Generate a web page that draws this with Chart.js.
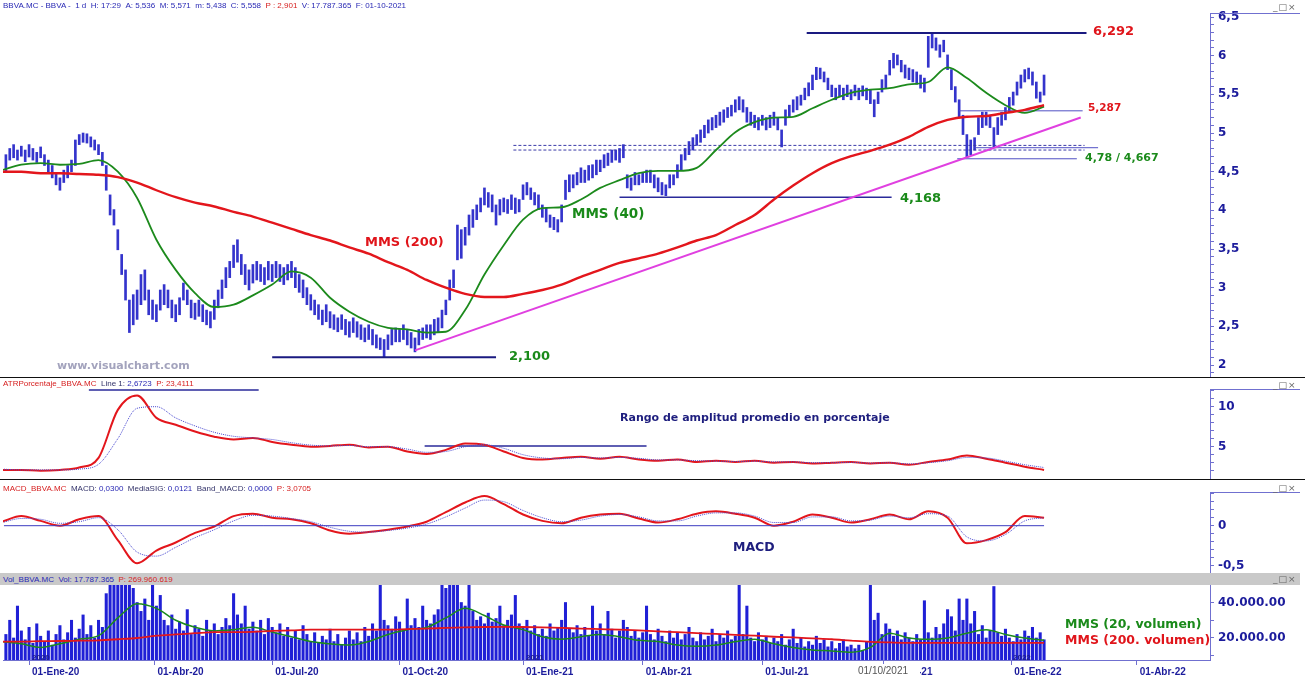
<!DOCTYPE html>
<html lang="es">
<head>
<meta charset="utf-8">
<title>BBVA.MC</title>
<script src="https://cdn.jsdelivr.net/npm/chart.js@4.4.1/dist/chart.umd.min.js"></script>
<style>
  html, body { margin: 0; padding: 0; background: #fff; }
  body { position: relative; width: 1305px; height: 681px; overflow: hidden; font-family: "DejaVu Sans", sans-serif; }
  canvas { position: absolute; left: 0; }
  .hdr { position: absolute; left: 3px; font: 8px "Liberation Sans", sans-serif; white-space: nowrap; color: #2828b4; }
  .hdr .r { color: #d61e1e; }
  .hdr .d { color: #33336a; }
  .note { position: absolute; white-space: nowrap; font-weight: bold; line-height: 1; }
  .sep { position: absolute; left: 0; width: 1305px; height: 1px; background: #111; }
  .boxtop { position: absolute; left: 1210px; width: 90px; height: 1px; background: #7070d0; }
  .icons { position: absolute; left: 1273px; font: 9px "DejaVu Sans", sans-serif; color: #666; letter-spacing: 1px; }
  #volbar { position: absolute; left: 0; top: 573px; width: 1300px; height: 12px; background: #c9c9c9; }
  .yr { position: absolute; font: bold 8px "Liberation Sans", sans-serif; color: #1e1e8a; }
</style>
</head>
<body>
<canvas id="price" width="1305" height="377" style="top:0"></canvas>
<canvas id="atr" width="1305" height="101" style="top:378px"></canvas>
<canvas id="macd" width="1305" height="93" style="top:480px"></canvas>
<div id="volbar"></div>
<canvas id="vol" width="1305" height="96" style="top:585px"></canvas>

<div class="sep" style="top:377px"></div>
<div class="sep" style="top:479px"></div>
<div class="boxtop" style="top:13px"></div>
<div class="boxtop" style="top:389px"></div>
<div class="boxtop" style="top:492px"></div>
<div class="icons" style="top:2px">_□×</div>
<div class="icons" style="top:380px">_□×</div>
<div class="icons" style="top:483px">_□×</div>
<div class="icons" style="top:574px">_□×</div>

<div class="hdr" style="top:1px">BBVA.MC - BBVA - &nbsp;1 d &nbsp;H: 17:29 &nbsp;A: 5,536 &nbsp;M: 5,571 &nbsp;m: 5,438 &nbsp;C: 5,558 &nbsp;<span class="r">P : 2,901</span> &nbsp;V: 17.787.365 &nbsp;F: 01-10-2021</div>
<div class="hdr" style="top:379px"><span class="r">ATRPorcentaje_BBVA.MC</span> &nbsp;<span class="d">Line 1:</span> 2,6723 &nbsp;<span class="r">P: 23,4111</span></div>
<div class="hdr" style="top:484px"><span class="r">MACD_BBVA.MC</span> &nbsp;<span class="d">MACD:</span> 0,0300 &nbsp;<span class="d">MediaSIG:</span> 0,0121 &nbsp;<span class="d">Band_MACD:</span> 0,0000 &nbsp;<span class="r">P: 3,0705</span></div>
<div class="hdr" style="top:575px">Vol_BBVA.MC &nbsp;Vol: 17.787.365 &nbsp;<span class="r">P: 269.960.619</span></div>

<div class="note" style="left:1093px;top:24px;font-size:13px;color:#e0151b">6,292</div>
<div class="note" style="left:1088px;top:102px;font-size:10.5px;color:#e0151b">5,287</div>
<div class="note" style="left:1085px;top:152px;font-size:11px;color:#1a8a1a">4,78 / 4,667</div>
<div class="note" style="left:900px;top:191px;font-size:13px;color:#1a8a1a">4,168</div>
<div class="note" style="left:572px;top:207px;font-size:13.5px;color:#1a8a1a">MMS (40)</div>
<div class="note" style="left:365px;top:235px;font-size:13px;color:#e0151b">MMS (200)</div>
<div class="note" style="left:509px;top:349px;font-size:13px;color:#1a8a1a">2,100</div>
<div class="note" style="left:57px;top:360px;font-size:11px;color:#a3a3bd">www.visualchart.com</div>
<div class="note" style="left:620px;top:412px;font-size:11px;color:#1e1e7e">Rango de amplitud promedio en porcentaje</div>
<div class="note" style="left:733px;top:541px;font-size:12.5px;color:#1e1e7e">MACD</div>
<div class="note" style="left:1065px;top:618px;font-size:12.5px;color:#1a8a1a">MMS (20, volumen)</div>
<div class="note" style="left:1065px;top:634px;font-size:12.5px;color:#e0151b">MMS (200. volumen)</div>
<div class="yr" style="left:32px;top:653px">2020</div>
<div class="yr" style="left:526px;top:653px">2021</div>
<div class="yr" style="left:1013px;top:653px">2022</div>
<div class="note" style="left:855px;top:664px;height:13px;width:62px;font:10px 'Liberation Sans',sans-serif;color:#555;background:#fff;padding:1px 0 0 3px">01/10/2021</div>

<script>
// x positions are trading-day indexes, 0 = 01-Ene-20
const barStart = -12, barStep = 2;      // price and volume bars
const lineStart = -14, lineStep = 10;   // moving averages and oscillators

const priceLow = [
  4.50, 4.65, 4.68, 4.65, 4.70, 4.63, 4.69, 4.65, 4.62, 4.68,
  4.58, 4.50, 4.42, 4.33, 4.26, 4.36, 4.42, 4.50, 4.58, 4.85,
  4.88, 4.87, 4.82, 4.78, 4.72, 4.58, 4.26, 3.94, 3.81, 3.49,
  3.17, 2.84, 2.42, 2.52, 2.59, 2.78, 2.84, 2.65, 2.59, 2.56,
  2.71, 2.78, 2.74, 2.61, 2.56, 2.65, 2.84, 2.78, 2.61, 2.59,
  2.63, 2.56, 2.52, 2.48, 2.59, 2.74, 2.86, 3.00, 3.13, 3.26,
  3.33, 3.17, 3.04, 2.97, 3.06, 3.10, 3.08, 3.04, 3.10, 3.08,
  3.13, 3.08, 3.04, 3.10, 3.13, 3.00, 2.94, 2.87, 2.78, 2.71,
  2.65, 2.59, 2.52, 2.56, 2.48, 2.46, 2.43, 2.46, 2.39, 2.36,
  2.42, 2.36, 2.33, 2.30, 2.33, 2.26, 2.22, 2.20, 2.10, 2.20,
  2.26, 2.30, 2.30, 2.33, 2.26, 2.22, 2.17, 2.26, 2.33, 2.35,
  2.33, 2.39, 2.43, 2.48, 2.65, 2.84, 3.00, 3.36, 3.38, 3.55,
  3.68, 3.78, 3.88, 3.98, 4.07, 4.04, 3.98, 3.81, 3.94, 3.98,
  3.96, 4.01, 3.96, 3.98, 4.14, 4.20, 4.14, 4.07, 4.01, 3.91,
  3.85, 3.78, 3.75, 3.72, 3.85, 4.14, 4.24, 4.29, 4.33, 4.36,
  4.36, 4.39, 4.42, 4.46, 4.50, 4.55, 4.58, 4.62, 4.65, 4.62,
  4.68, 4.29, 4.26, 4.33, 4.33, 4.36, 4.36, 4.36, 4.29, 4.24,
  4.20, 4.19, 4.29, 4.33, 4.42, 4.52, 4.65, 4.72, 4.78, 4.84,
  4.88, 4.94, 5.00, 5.04, 5.07, 5.10, 5.14, 5.20, 5.22, 5.27,
  5.30, 5.27, 5.14, 5.10, 5.07, 5.04, 5.10, 5.04, 5.07, 5.10,
  5.04, 4.82, 5.10, 5.20, 5.27, 5.30, 5.36, 5.43, 5.48, 5.56,
  5.69, 5.70, 5.66, 5.56, 5.47, 5.43, 5.47, 5.43, 5.47, 5.43,
  5.48, 5.43, 5.48, 5.43, 5.38, 5.21, 5.38, 5.53, 5.58, 5.75,
  5.84, 5.88, 5.79, 5.71, 5.69, 5.66, 5.63, 5.58, 5.53, 5.85,
  6.10, 6.07, 5.98, 6.05, 5.82, 5.56, 5.40, 5.21, 4.98, 4.69,
  4.72, 4.78, 4.98, 5.07, 5.10, 5.07, 4.82, 4.98, 5.10, 5.17,
  5.27, 5.36, 5.49, 5.58, 5.66, 5.70, 5.62, 5.45, 5.40, 5.49
];
const priceHigh = [
  4.72, 4.80, 4.85, 4.78, 4.83, 4.78, 4.85, 4.80, 4.75, 4.82,
  4.72, 4.65, 4.58, 4.48, 4.42, 4.52, 4.58, 4.65, 4.91, 4.98,
  5.00, 4.99, 4.95, 4.91, 4.85, 4.75, 4.58, 4.20, 4.01, 3.75,
  3.43, 3.23, 2.84, 2.91, 2.97, 3.17, 3.23, 2.97, 2.84, 2.78,
  2.97, 3.04, 2.97, 2.84, 2.78, 2.87, 3.06, 2.97, 2.84, 2.80,
  2.84, 2.78, 2.71, 2.69, 2.84, 2.97, 3.10, 3.26, 3.34, 3.55,
  3.62, 3.43, 3.30, 3.23, 3.30, 3.34, 3.30, 3.26, 3.34, 3.30,
  3.34, 3.30, 3.26, 3.30, 3.34, 3.26, 3.17, 3.10, 3.00, 2.91,
  2.84, 2.78, 2.71, 2.78, 2.69, 2.65, 2.61, 2.65, 2.59, 2.56,
  2.61, 2.56, 2.52, 2.48, 2.52, 2.46, 2.39, 2.35, 2.33, 2.39,
  2.46, 2.48, 2.46, 2.52, 2.46, 2.42, 2.35, 2.46, 2.48, 2.52,
  2.52, 2.59, 2.61, 2.71, 2.84, 3.10, 3.23, 3.81, 3.75, 3.78,
  3.94, 4.01, 4.07, 4.16, 4.29, 4.23, 4.20, 4.07, 4.14, 4.16,
  4.14, 4.20, 4.16, 4.14, 4.33, 4.36, 4.29, 4.23, 4.20, 4.07,
  4.03, 3.94, 3.91, 3.88, 4.07, 4.39, 4.46, 4.46, 4.49, 4.55,
  4.52, 4.58, 4.59, 4.65, 4.65, 4.72, 4.74, 4.78, 4.78, 4.80,
  4.85, 4.46, 4.42, 4.49, 4.46, 4.49, 4.52, 4.52, 4.46, 4.42,
  4.36, 4.33, 4.46, 4.46, 4.59, 4.72, 4.80, 4.89, 4.94, 4.98,
  5.04, 5.10, 5.17, 5.20, 5.23, 5.27, 5.30, 5.33, 5.36, 5.43,
  5.47, 5.43, 5.33, 5.27, 5.23, 5.20, 5.23, 5.20, 5.23, 5.27,
  5.20, 5.04, 5.30, 5.36, 5.43, 5.47, 5.49, 5.58, 5.65, 5.75,
  5.85, 5.84, 5.79, 5.71, 5.62, 5.58, 5.62, 5.58, 5.62, 5.56,
  5.62, 5.58, 5.61, 5.58, 5.56, 5.43, 5.53, 5.69, 5.75, 5.94,
  6.03, 6.01, 5.94, 5.88, 5.84, 5.82, 5.79, 5.75, 5.71, 6.25,
  6.29, 6.23, 6.14, 6.20, 6.01, 5.82, 5.60, 5.43, 5.23, 4.98,
  4.91, 4.94, 5.20, 5.27, 5.27, 5.23, 5.07, 5.20, 5.27, 5.33,
  5.46, 5.53, 5.66, 5.75, 5.82, 5.84, 5.79, 5.66, 5.53, 5.75
];
// volume in millions of shares
const volume = [
  22, 30, 20, 38, 24, 19, 26, 17, 28, 21,
  18, 24, 16, 22, 27, 19, 23, 30, 20, 25,
  33, 22, 27, 20, 30, 26, 45, 70, 58, 75,
  62, 80, 65, 48, 40, 35, 42, 30, 52, 38,
  44, 30, 27, 33, 25, 29, 24, 36, 22, 27,
  25, 21, 30, 24, 28, 22, 26, 31, 27, 45,
  33, 28, 38, 25, 29, 24, 30, 22, 31, 26,
  23, 28, 21, 26, 20, 24, 19, 27, 22, 18,
  23, 17, 21, 19, 25, 18, 22, 16, 20, 24,
  19, 23, 18, 26, 21, 28, 24, 70, 30, 27,
  25, 32, 29, 24, 42, 27, 31, 26, 38, 30,
  28, 33, 36, 70, 48, 65, 50, 58, 40, 38,
  55, 35, 30, 32, 28, 34, 29, 31, 38, 27,
  30, 33, 44, 28, 26, 30, 24, 27, 22, 25,
  21, 28, 24, 26, 30, 40, 25, 23, 27, 22,
  26, 21, 38, 24, 28, 22, 35, 25, 20, 24,
  30, 26, 21, 24, 20, 23, 38, 22, 19, 25,
  21, 18, 24, 20, 23, 19, 22, 26, 20, 18,
  23, 19, 21, 25, 18, 22, 20, 24, 19, 21,
  51, 22, 38, 20, 18, 23, 19, 21, 17, 20,
  18, 22, 16, 19, 25, 17, 20, 15, 18, 16,
  21, 17, 19, 15, 18, 14, 17, 19, 15, 16,
  14, 16, 13, 18, 60, 30, 34, 22, 28, 25,
  21, 24, 19, 23, 20, 18, 22, 19, 41, 23,
  20, 26, 22, 28, 36, 32, 24, 42, 30, 42,
  28, 35, 22, 27, 20, 24, 49, 23, 21, 25,
  20, 18, 22, 19, 24, 21, 26, 20, 23, 19
];
const mms40 = [
  4.52, 4.59, 4.61, 4.59, 4.60, 4.65, 4.50, 4.16, 3.62, 3.23,
  2.93, 2.75, 2.78, 2.90, 3.04, 3.21, 3.13, 2.87, 2.69, 2.56,
  2.48, 2.46, 2.42, 2.43, 2.71, 3.17, 3.55, 3.88, 4.03, 4.04,
  4.14, 4.29, 4.39, 4.48, 4.51, 4.51, 4.55, 4.78, 5.01, 5.14,
  5.20, 5.21, 5.32, 5.43, 5.52, 5.56, 5.58, 5.63, 5.66, 5.85,
  5.71, 5.52, 5.36, 5.26, 5.34
];
const mms200 = [
  4.50, 4.50, 4.48, 4.48, 4.47, 4.46, 4.43, 4.36, 4.26, 4.17,
  4.10, 4.05, 3.98, 3.92, 3.84, 3.76, 3.68, 3.61, 3.52, 3.44,
  3.33, 3.23, 3.10, 3.00, 2.92, 2.88, 2.88, 2.92, 2.97, 3.04,
  3.14, 3.23, 3.32, 3.38, 3.44, 3.52, 3.61, 3.68, 3.81, 3.94,
  4.14, 4.32, 4.48, 4.61, 4.70, 4.77, 4.85, 4.95, 5.08, 5.17,
  5.21, 5.22, 5.26, 5.30, 5.36
];
const atrPct = [
  2.1, 2.1, 2.0, 2.1, 2.4, 3.6, 9.6, 11.4, 8.6, 7.75,
  6.9, 6.25, 5.9, 6.1, 5.6, 5.25, 5.0, 5.1, 5.25, 4.9,
  5.0, 4.4, 4.1, 4.6, 5.4, 5.25, 4.4, 3.6, 3.4, 3.6,
  3.75, 3.5, 3.75, 3.4, 3.25, 3.4, 3.1, 3.25, 3.1, 3.25,
  3.0, 3.1, 2.9, 3.0, 3.1, 2.9, 3.0, 2.75, 3.1, 3.4,
  3.9, 3.5, 3.0, 2.5, 2.1
];
const atrSignal = [
  2.2, 2.1, 2.1, 2.1, 2.2, 2.8, 6.0, 9.8, 10.0, 8.6,
  7.6, 6.8, 6.3, 6.1, 5.9, 5.5, 5.2, 5.1, 5.15, 5.0,
  5.0, 4.7, 4.3, 4.4, 5.0, 5.25, 4.8, 4.0, 3.6, 3.5,
  3.65, 3.6, 3.65, 3.55, 3.35, 3.35, 3.25, 3.2, 3.15, 3.2,
  3.1, 3.1, 3.0, 3.0, 3.05, 2.95, 3.0, 2.85, 3.0, 3.25,
  3.65, 3.6, 3.2, 2.75, 2.4
];
const macd = [
  0.05, 0.12, 0.06, 0.00, 0.08, 0.12, -0.18, -0.47, -0.31, -0.21,
  -0.09, -0.01, 0.12, 0.15, 0.10, 0.08, 0.03, -0.06, -0.10, -0.08,
  -0.05, -0.01, 0.05, 0.17, 0.29, 0.37, 0.27, 0.14, 0.06, 0.03,
  0.10, 0.14, 0.15, 0.09, 0.04, 0.08, 0.15, 0.18, 0.15, 0.10,
  0.00, 0.05, 0.14, 0.10, 0.04, 0.08, 0.14, 0.08, 0.18, 0.10,
  -0.22, -0.18, -0.08, 0.12, 0.10
];
const macdSignal = [
  0.04, 0.09, 0.08, 0.03, 0.05, 0.10, -0.05, -0.33, -0.38, -0.27,
  -0.15, -0.05, 0.06, 0.13, 0.12, 0.09, 0.05, -0.02, -0.07, -0.08,
  -0.06, -0.03, 0.02, 0.11, 0.22, 0.32, 0.30, 0.19, 0.10, 0.05,
  0.07, 0.12, 0.14, 0.11, 0.06, 0.06, 0.12, 0.16, 0.16, 0.12,
  0.04, 0.04, 0.11, 0.11, 0.06, 0.07, 0.12, 0.10, 0.15, 0.12,
  -0.14, -0.19, -0.11, 0.06, 0.10
];
const volMms20 = [
  18, 16.7, 14.7, 16.7, 19.3, 21.3, 31.3, 39.3, 36.7, 30,
  26, 24, 24.7, 26, 23.3, 20.7, 18, 16.7, 16, 18,
  22, 24.7, 26, 31.3, 36.7, 32.7, 27.3, 24.7, 20.7, 19.3,
  20.7, 22, 20.7, 18.7, 18, 16, 15.3, 16, 18, 19.3,
  16.7, 14.7, 13.3, 12.7, 12, 14.7, 22.7, 20, 19.3, 20,
  22.7, 24.7, 22, 20, 18.7
];
const volMms200 = [
  18, 18, 18.2, 18.3, 18.5, 18.7, 19.3, 20, 21.3, 22,
  22.7, 23.3, 23.3, 23.5, 24, 24.3, 24.7, 24.7, 24.7, 24.7,
  24.7, 25, 25.3, 25.7, 26, 26.2, 26.3, 26.2, 26, 25.7,
  25.3, 25, 24.7, 24.3, 23.7, 23.3, 22.7, 22.3, 21.7, 21.3,
  20.7, 20.3, 19.8, 19.3, 18.5, 17.8, 17.5, 17.3, 17.3, 17.3,
  17.3, 17.3, 17.3, 17.2, 17.2
];

const tickDays = [0, 65, 126, 192, 256, 318, 380, 443, 509, 574];
const tickLabels = ['01-Ene-20', '01-Abr-20', '01-Jul-20', '01-Oct-20', '01-Ene-21',
                    '01-Abr-21', '01-Jul-21', '01-Oct-21', '01-Ene-22', '01-Abr-22'];
const priceTickValues = [2, 2.5, 3, 3.5, 4, 4.5, 5, 5.5, 6, 6.5];
const priceTickLabels = ['2', '2,5', '3', '3,5', '4', '4,5', '5', '5,5', '6', '6,5'];
const atrTickValues = [5, 10];
const atrTickLabels = ['5', '10'];
const macdTickValues = [-0.5, 0];
const macdTickLabels = ['-0,5', '0'];
const volTickValues = [20, 40];
const volTickLabels = ['20.000.00', '40.000.00'];

// drawn levels: trading-day span and value
const heavyLevels = [{from: 403, to: 548, value: 6.292}, {from: 126, to: 242, value: 2.100}];
const mediumLevels = [{from: 306, to: 447, value: 4.168}];
const thinLevels = [{from: 482, to: 546, value: 5.287}, {from: 490, to: 554, value: 4.81}, {from: 481, to: 543, value: 4.667}];
const dashedLevels = [{from: 251, to: 547, value: 4.84}, {from: 251, to: 547, value: 4.78}];
const trendLine = [{x: 200, y: 2.19}, {x: 545, y: 5.20}];
const atrLevels = [{from: 31, to: 119, value: 12.1}, {from: 205, to: 320, value: 5.1}];
const macdZero = [{from: -13, to: 526, value: 0}];

const xMin = -13.5, xMax = 612;
const axisColor = '#7070d0', labelColor = '#1c1c9c';
const blue = '#3030c8', red = '#e3161c', green = '#1c8a1c';

const points = (vals, start, step) => vals.map((v, i) => ({x: start + i * step, y: v}));
const segment = l => [{x: l.from, y: l.value}, {x: l.to, y: l.value}];
const lineSet = (data, color, width, extra) => Object.assign({
  type: 'line', data, borderColor: color, borderWidth: width, pointRadius: 0,
  fill: false, cubicInterpolationMode: 'monotone', order: 1
}, extra || {});

function xAxis(show) {
  const ax = {
    type: 'linear', min: xMin, max: xMax, offset: false, display: show,
    grid: {display: show, drawOnChartArea: false, tickLength: 5, tickColor: axisColor, offset: false},
    border: {display: show, color: axisColor}
  };
  if (show) {
    ax.afterBuildTicks = s => { s.ticks = tickDays.map(v => ({value: v})); };
    ax.afterFit = s => { s.height = 21; s.paddingLeft = 0; s.paddingRight = 0; };
    ax.ticks = {autoSkip: false, maxRotation: 0, minRotation: 0, align: 'start', labelOffset: 3, padding: 1,
      color: labelColor, font: {family: 'Liberation Sans', weight: 'bold', size: 10},
      callback: (v, i) => tickLabels[i]};
  }
  return ax;
}

function yAxis(min, max, step, majors, labels) {
  return {
    position: 'right', min, max,
    border: {display: true, color: axisColor, width: 1},
    grid: {drawOnChartArea: false, tickLength: 4, tickColor: axisColor},
    afterBuildTicks: s => {
      const t = [];
      for (let k = Math.ceil(min / step - 1e-9); k * step <= max + 1e-9; k++) t.push({value: +(k * step).toFixed(6)});
      s.ticks = t;
    },
    afterFit: s => { s.width = 95; s.paddingTop = 0; s.paddingBottom = 0; },
    ticks: {autoSkip: false, padding: 4, color: labelColor,
      font: {family: 'DejaVu Sans', weight: 'bold', size: 12},
      callback: v => { const i = majors.findIndex(m => Math.abs(m - v) < 1e-6); return i < 0 ? '' : labels[i]; }}
  };
}

function baseOptions(pad, x, y) {
  return {
    responsive: false, animation: false, events: [],
    layout: {padding: pad},
    plugins: {legend: {display: false}, tooltip: {enabled: false}},
    scales: {x, y}
  };
}

new Chart(document.getElementById('price'), {
  type: 'bar',
  data: {datasets: [
    {type: 'bar', data: priceLow.map((lo, i) => ({x: barStart + i * barStep, y: [lo, priceHigh[i]]})),
     backgroundColor: '#3434cc', barThickness: 2, order: 5},
    lineSet(points(mms200, lineStart, lineStep), red, 2.4),
    lineSet(points(mms40, lineStart, lineStep), green, 1.8),
    lineSet(trendLine, '#e040e0', 2),
    ...heavyLevels.map(l => lineSet(segment(l), '#1a1a80', 2)),
    ...mediumLevels.map(l => lineSet(segment(l), '#2a2a9a', 1.5)),
    ...thinLevels.map(l => lineSet(segment(l), '#5050c4', 1)),
    ...dashedLevels.map(l => lineSet(segment(l), '#3a3aa8', 1, {borderDash: [3, 2]}))
  ]},
  options: baseOptions({left: 3, right: 0, top: 13, bottom: 1}, xAxis(false),
    yAxis(1.858, 6.552, 0.1, priceTickValues, priceTickLabels))
});

new Chart(document.getElementById('atr'), {
  type: 'line',
  data: {datasets: [
    lineSet(points(atrSignal, lineStart, lineStep), '#4a4ad0', 1, {borderDash: [1, 1]}),
    lineSet(points(atrPct, lineStart, lineStep), red, 2),
    ...atrLevels.map(l => lineSet(segment(l), '#2a2a9a', 1.5))
  ]},
  options: baseOptions({left: 3, right: 0, top: 11, bottom: 1}, xAxis(false),
    yAxis(1.09, 12.21, 1, atrTickValues, atrTickLabels))
});

new Chart(document.getElementById('macd'), {
  type: 'line',
  data: {datasets: [
    ...macdZero.map(l => lineSet(segment(l), '#3c3cc0', 1)),
    lineSet(points(macdSignal, lineStart, lineStep), '#4a4ad0', 1, {borderDash: [1, 1]}),
    lineSet(points(macd, lineStart, lineStep), red, 2)
  ]},
  options: baseOptions({left: 3, right: 0, top: 12, bottom: 0}, xAxis(false),
    yAxis(-0.591, 0.421, 0.1, macdTickValues, macdTickLabels))
});

new Chart(document.getElementById('vol'), {
  type: 'bar',
  data: {datasets: [
    {type: 'bar', data: points(volume, barStart, barStep), backgroundColor: '#2020d6', barThickness: 2.4, order: 5},
    lineSet(points(volMms200, lineStart, lineStep), red, 1.8),
    lineSet(points(volMms20, lineStart, lineStep), green, 1.5)
  ]},
  options: baseOptions({left: 3, right: 0, top: 0, bottom: 0}, xAxis(true),
    yAxis(7.6, 49.86, 10, volTickValues, volTickLabels))
});
</script>
</body>
</html>
